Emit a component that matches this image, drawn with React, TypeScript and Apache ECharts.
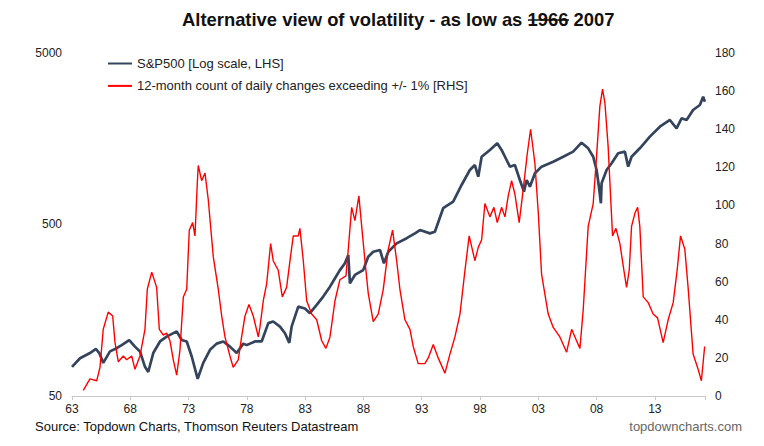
import React, { useEffect, useRef } from "react";
import * as echarts from "echarts";

const FONT = "'Liberation Sans', Arial, Helvetica, sans-serif";

const titleText = "Alternative view of volatility - as low as 1966 2007";
const sourceText = "Source: Topdown Charts, Thomson Reuters Datastream";
const siteText = "topdowncharts.com";
const spxName = "S&P500 [Log scale, LHS]";
const volName = "12-month count of daily changes exceeding +/- 1% [RHS]";

// S&P 500 (log scale, left axis)
const spxYears = [
  1963.0, 1963.69, 1964.54, 1965.06, 1965.34, 1965.68, 1966.26, 1966.83, 1967.26, 1967.91,
  1968.4, 1968.83, 1969.26, 1969.54, 1969.97, 1970.55, 1971.12, 1971.98, 1972.41, 1972.84,
  1973.27, 1973.78, 1974.26, 1974.84, 1975.41, 1975.98, 1976.55, 1977.13, 1977.69, 1977.98,
  1978.69, 1979.27, 1979.84, 1980.26, 1980.84, 1981.27, 1981.64, 1981.84, 1982.41, 1982.98,
  1983.41, 1983.99, 1984.55, 1985.13, 1985.56, 1985.98, 1986.41, 1986.7, 1986.84, 1987.27,
  1987.98, 1988.41, 1988.84, 1989.42, 1989.76, 1990.13, 1990.85, 1991.71, 1992.42, 1992.85,
  1993.7, 1994.13, 1994.84, 1995.7, 1996.42, 1997.13, 1997.56, 1997.85, 1998.14, 1998.85,
  1999.48, 1999.85, 2000.28, 2000.56, 2000.99, 2001.42, 2001.77, 2002.0, 2002.28, 2002.71,
  2003.28, 2004.28, 2005.14, 2005.99, 2006.71, 2007.28, 2007.71, 2008.0, 2008.2, 2008.37,
  2008.43, 2008.86, 2009.29, 2009.85, 2010.43, 2010.71, 2011.0, 2011.71, 2012.57, 2013.43,
  2014.29, 2014.86, 2015.29, 2015.72, 2016.28, 2016.86, 2017.14, 2017.29,
];
const spxValues = [
  74, 83, 89, 94, 89, 78, 91, 95, 99, 106,
  97, 91, 74, 69, 89, 104, 111, 119, 106, 104,
  85, 63, 78, 93, 101, 104, 97, 89, 101, 99,
  104, 104, 133, 136, 127, 116, 102, 127, 166, 162,
  152, 170, 190, 217, 243, 271, 297, 332, 227, 254,
  271, 324, 347, 355, 297, 347, 388, 416, 444, 464,
  444, 454, 622, 679, 850, 1039, 1111, 950, 1242, 1360,
  1487, 1360, 1189, 1087, 1111, 909, 777, 909, 831, 995,
  1087, 1162, 1242, 1330, 1500, 1390, 1242, 1039, 831, 665,
  870, 1039, 1137, 1301, 1329, 1087, 1242, 1391, 1626, 1859,
  2034, 1819, 2081, 2034, 2326, 2488, 2782, 2600,
];

// 12-month count of daily moves beyond +/- 1% (right axis)
const volYears = [
  1963.97, 1964.54, 1965.12, 1965.4, 1965.68, 1966.11, 1966.49, 1966.69, 1966.97, 1967.4,
  1967.69, 1968.12, 1968.4, 1968.83, 1969.26, 1969.46, 1969.84, 1970.26, 1970.49, 1970.83,
  1971.12, 1971.4, 1971.69, 1971.98, 1972.26, 1972.55, 1972.84, 1973.06, 1973.35, 1973.55,
  1973.75, 1973.83, 1974.12, 1974.41, 1974.69, 1975.12, 1975.55, 1975.84, 1976.12, 1976.55,
  1976.83, 1977.26, 1977.55, 1977.84, 1978.18, 1978.55, 1978.98, 1979.12, 1979.41, 1979.7,
  1980.04, 1980.26, 1980.69, 1981.04, 1981.41, 1981.7, 1981.98, 1982.41, 1982.55, 1982.84,
  1983.13, 1983.56, 1983.99, 1984.42, 1984.78, 1985.13, 1985.56, 1985.98, 1986.5, 1986.7,
  1986.99, 1987.27, 1987.61, 1987.85, 1988.13, 1988.41, 1988.84, 1989.27, 1989.7, 1990.13,
  1990.5, 1990.85, 1991.13, 1991.56, 1991.99, 1992.27, 1992.7, 1993.27, 1993.56, 1993.99,
  1994.41, 1994.99, 1995.42, 1995.85, 1996.28, 1996.71, 1997.07, 1997.56, 1997.85, 1998.14,
  1998.42, 1998.85, 1999.19, 1999.48, 1999.85, 2000.14, 2000.42, 2000.71, 2000.99, 2001.36,
  2001.7, 2002.05, 2002.34, 2002.71, 2003.0, 2003.28, 2003.85, 2004.28, 2004.85, 2005.43,
  2005.86, 2006.28, 2006.57, 2006.85, 2007.28, 2007.71, 2008.0, 2008.28, 2008.51, 2008.71,
  2008.99, 2009.37, 2009.66, 2010.0, 2010.29, 2010.57, 2010.8, 2011.0, 2011.29, 2011.52,
  2011.71, 2012.0, 2012.43, 2012.85, 2013.23, 2013.71, 2014.14, 2014.57, 2014.91, 2015.2,
  2015.57, 2015.85, 2016.28, 2016.71, 2016.99, 2017.27,
];
const volValues = [
  3, 9, 8, 15, 35, 44, 42, 28, 18, 21,
  19, 21, 14, 21, 35, 56, 65, 57, 35, 32,
  33, 29, 19, 11, 24, 52, 56, 87, 91, 84,
  112, 121, 113, 117, 103, 73, 56, 42, 31, 21,
  15, 19, 31, 42, 48, 42, 31, 36, 50, 59,
  80, 71, 66, 52, 57, 71, 84, 84, 88, 71,
  50, 43, 40, 29, 25, 31, 50, 61, 63, 77,
  99, 92, 105, 89, 71, 54, 39, 43, 56, 77,
  87, 71, 56, 40, 35, 26, 17, 17, 20, 27,
  20, 12, 22, 31, 43, 66, 84, 71, 78, 82,
  101, 94, 99, 91, 99, 94, 105, 113, 106, 91,
  108, 127, 140, 122, 96, 64, 43, 36, 31, 23,
  35, 29, 25, 45, 89, 101, 126, 152, 161, 154,
  131, 84, 88, 80, 68, 57, 66, 89, 96, 99,
  89, 52, 49, 43, 41, 28, 40, 49, 66, 84,
  77, 57, 22, 14, 8, 26,
];

const xMin = 1963;
const xMax = 2017.3;
const xStep = 5;
const leftMin = 50;
const leftMax = 5000;
const rightMin = 0;
const rightMax = 180;
const rightStep = 20;

const SPX_COLOR = "#34445c";
const VOL_COLOR = "#ff0000";
const TEXT_COLOR = "#222222";
const AXIS_COLOR = "#c8c8c8";

export default function App() {
  const ref = useRef<HTMLDivElement>(null);

  useEffect(() => {
    if (!ref.current) return;
    const chart = echarts.init(ref.current, undefined, { renderer: "svg" });
    const labelStyle = { color: TEXT_COLOR, fontSize: 12, fontFamily: FONT };
    chart.setOption({
      animation: false,
      backgroundColor: "#ffffff",
      grid: { left: 72, right: 59, top: 53, bottom: 50, containLabel: false },
      legend: {
        orient: "vertical",
        left: 108,
        top: 57,
        padding: 0,
        itemWidth: 24,
        itemHeight: 2,
        itemGap: 9.4,
        icon: "rect",
        data: [spxName, volName],
        textStyle: { color: TEXT_COLOR, fontSize: 13, fontFamily: FONT },
      },
      xAxis: {
        type: "value",
        min: xMin,
        max: xMax,
        interval: xStep,
        axisLine: { show: true, lineStyle: { color: AXIS_COLOR, width: 1 } },
        axisTick: { show: true, length: 4, lineStyle: { color: AXIS_COLOR } },
        splitLine: { show: false },
        axisLabel: {
          ...labelStyle,
          margin: 7,
          formatter: (v: number) =>
            Number.isInteger(v) && (v - xMin) % xStep === 0 ? String(v).slice(2) : "",
        },
      },
      yAxis: [
        {
          type: "log",
          logBase: 10,
          min: leftMin,
          max: leftMax,
          interval: 1,
          position: "left",
          axisLine: { show: false },
          axisTick: { show: false },
          splitLine: { show: false },
          axisLabel: {
            ...labelStyle,
            margin: 10,
            formatter: (v: number) => String(Number(Number(v).toPrecision(1))),
          },
        },
        {
          type: "value",
          min: rightMin,
          max: rightMax,
          interval: rightStep,
          position: "right",
          axisLine: { show: false },
          axisTick: { show: false },
          splitLine: { show: false },
          axisLabel: { ...labelStyle, margin: 10 },
        },
      ],
      series: [
        {
          name: spxName,
          type: "line",
          yAxisIndex: 0,
          showSymbol: false,
          symbol: "none",
          data: spxYears.map((y, i) => [y, spxValues[i]]),
          lineStyle: { color: SPX_COLOR, width: 2.7 },
          itemStyle: { color: SPX_COLOR },
        },
        {
          name: volName,
          type: "line",
          yAxisIndex: 1,
          showSymbol: false,
          symbol: "none",
          data: volYears.map((y, i) => [y, volValues[i]]),
          lineStyle: { color: VOL_COLOR, width: 1.4 },
          itemStyle: { color: VOL_COLOR },
        },
      ],
      graphic: [
        {
          type: "text",
          left: 182,
          top: 10,
          style: {
            text: titleText,
            fill: "#111111",
            font: `bold 18.4px ${FONT}`,
          },
        },
        {
          type: "line",
          shape: { x1: 528, y1: 20, x2: 569, y2: 20 },
          style: { stroke: "#111111", lineWidth: 1.5 },
        },
        {
          type: "text",
          left: 35,
          top: 420,
          style: { text: sourceText, fill: "#111111", font: `13px ${FONT}` },
        },
        {
          type: "text",
          right: 22,
          top: 420,
          style: { text: siteText, fill: "#666666", font: `13px ${FONT}` },
        },
      ],
    });
    return () => chart.dispose();
  }, []);

  return (
    <div
      ref={ref}
      style={{ position: "fixed", left: 0, top: 0, width: 764, height: 446, background: "#fff" }}
    />
  );
}
